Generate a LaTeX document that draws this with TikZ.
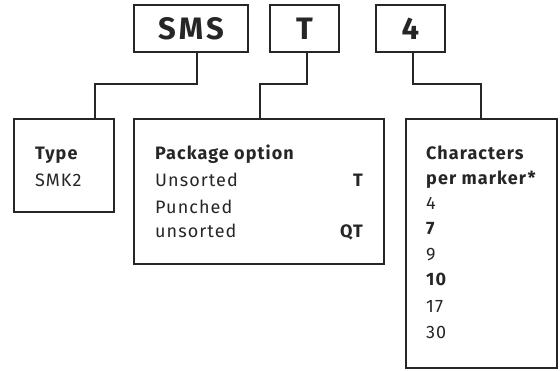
\documentclass[tikz,border=0pt]{standalone}
\usepackage{fontspec}
\setmainfont{Fira Sans}
\newfontfamily\abb[LetterSpace=6]{Fira Sans}
\newfontfamily\abbbig[LetterSpace=11]{Fira Sans}
\definecolor{ink}{HTML}{262626}
\begin{document}
\begin{tikzpicture}[x=1pt,y=-1pt,
  box/.style={draw=ink,line width=1.3pt},
  wire/.style={draw=ink,line width=1.2pt},
  big/.style={font=\abbbig\fontsize{31}{34}\selectfont\bfseries,text=ink},
  txt/.style={anchor=base west,inner sep=0pt,font=\abb\fontsize{18}{21}\selectfont,text=ink},
  txtb/.style={txt,font=\abb\fontsize{18}{21}\selectfont\bfseries},
  txtr/.style={anchor=base east,inner sep=0pt,font=\abb\fontsize{18}{21}\selectfont\bfseries,text=ink}]
\useasboundingbox (0,0) rectangle (560,370);
% top boxes
\node[box,minimum width=114pt,minimum height=47pt,inner sep=0pt,big] (sms) at (191,28.5) {SMS};
\node[box,minimum width=69pt,minimum height=47pt,inner sep=0pt,big] (t) at (304.5,28.5) {T};
\node[box,minimum width=69pt,minimum height=47pt,inner sep=0pt,big] (four) at (410.5,28.5) {4};
% bottom boxes
\node[box,minimum width=100pt,minimum height=93pt,inner sep=0pt] (type) at (64,165.5) {};
\node[box,minimum width=250pt,minimum height=145pt,inner sep=0pt] (pkg) at (259,191.5) {};
\node[box,minimum width=151pt,minimum height=249pt,inner sep=0pt] (chars) at (481.5,243.5) {};
% connectors
\coordinate (a1) at (197,84);
\coordinate (a2) at (95,84);
\draw[wire] (sms.south -| a1) -- (a1) -- (a2) -- (type.north -| a2);
\coordinate (b1) at (307,84);
\coordinate (b2) at (260,84);
\draw[wire] (t.south -| b1) -- (b1) -- (b2) -- (pkg.north -| b2);
\coordinate (c1) at (413,84);
\coordinate (c2) at (481,84);
\draw[wire] (four.south -| c1) -- (c1) -- (c2) -- (chars.north -| c2);
% type texts
\node[txtb] (ty1) at (35,159) {Type};
\node[txt] (ty2) at (35,186) {SMK2};
% package texts
\node[txtb] (p1) at (155,159) {Package option};
\node[txt] (p2) at (155,186) {Unsorted};
\node[txtr] (p2r) at (363,186) {T};
\node[txt] (p3) at (155,213) {Punched};
\node[txt] (p4) at (155,237) {unsorted};
\node[txtr] (p4r) at (363,237) {QT};
% characters texts
\node[txtb] (c1t) at (426,159) {Characters};
\node[txtb] (c2t) at (426,184) {per marker*};
\node[txt] (n1) at (426,209) {4};
\node[txtb] (n2) at (426,234) {7};
\node[txt] (n3) at (426,260) {9};
\node[txtb] (n4) at (426,285) {10};
\node[txt] (n5) at (426,312) {17};
\node[txt] (n6) at (426,338) {30};
\end{tikzpicture}
\end{document}
